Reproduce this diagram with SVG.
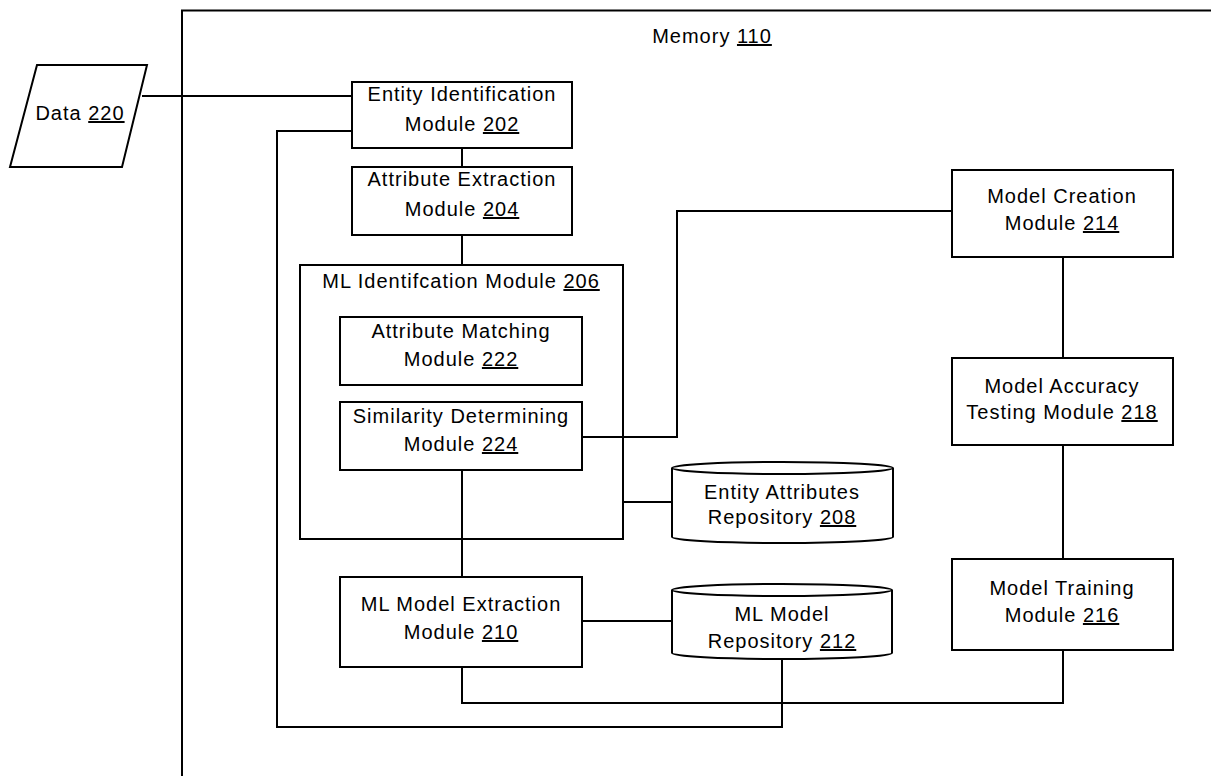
<svg xmlns="http://www.w3.org/2000/svg" width="1211" height="776" viewBox="0 0 1211 776">
<style>
.b{fill:#fff;stroke:#000;stroke-width:2}
.c{fill:none;stroke:#000;stroke-width:2}
.t{font-family:"Liberation Sans",Arial,sans-serif;font-size:20px;letter-spacing:1px;fill:#000;text-anchor:middle}
.u{text-decoration:underline}
</style>
<rect width="1211" height="776" fill="#fff"/>
<g id="memory">
<path class="c" d="M182,776 V10.5 H1211"/>
<text class="t" x="712" y="43">Memory <tspan class="u">110</tspan></text>
</g>
<g id="connectors">
<path class="c" d="M142,96 H352"/>
<path class="c" d="M352,131 H277 V727 H782 V659"/>
<path class="c" d="M462,148 V167"/>
<path class="c" d="M462,235 V265"/>
<path class="c" d="M462,470 V577"/>
<path class="c" d="M582,437 H677 V211 H952"/>
<path class="c" d="M623,502 H672"/>
<path class="c" d="M582,621 H672"/>
<path class="c" d="M462,667 V703 H1063 V650"/>
<path class="c" d="M1063,257 V358"/>
<path class="c" d="M1063,445 V559"/>
</g>
<g id="data220">
<path class="b" d="M37,65 H147 L122,167 H10 Z"/>
<text class="t" x="80" y="120">Data <tspan class="u">220</tspan></text>
</g>
<g id="entity202">
<rect class="b" x="352" y="82" width="220" height="66"/>
<text class="t" x="462" y="101">Entity Identification</text>
<text class="t" x="462" y="131">Module <tspan class="u">202</tspan></text>
</g>
<g id="attr204">
<rect class="b" x="352" y="167" width="220" height="68"/>
<text class="t" x="462" y="186">Attribute Extraction</text>
<text class="t" x="462" y="216">Module <tspan class="u">204</tspan></text>
</g>
<g id="mlident206">
<rect class="c" x="300" y="265" width="323" height="274"/>
<text class="t" x="461" y="288">ML Identifcation Module <tspan class="u">206</tspan></text>
</g>
<g id="match222">
<rect class="b" x="340" y="317" width="242" height="68"/>
<text class="t" x="461" y="338">Attribute Matching</text>
<text class="t" x="461" y="366">Module <tspan class="u">222</tspan></text>
</g>
<g id="sim224">
<rect class="b" x="340" y="402" width="242" height="68"/>
<text class="t" x="461" y="423">Similarity Determining</text>
<text class="t" x="461" y="451">Module <tspan class="u">224</tspan></text>
</g>
<g id="repo208">
<path class="b" d="M672,468 V537 A110.5,6 0 0 0 893,537 V468"/>
<ellipse class="b" cx="782.5" cy="468" rx="110.5" ry="6"/>
<text class="t" x="782" y="499">Entity Attributes</text>
<text class="t" x="782" y="524">Repository <tspan class="u">208</tspan></text>
</g>
<g id="mlext210">
<rect class="b" x="340" y="577" width="242" height="90"/>
<text class="t" x="461" y="611">ML Model Extraction</text>
<text class="t" x="461" y="639">Module <tspan class="u">210</tspan></text>
</g>
<g id="repo212">
<path class="b" d="M672,590 V653 A110,6 0 0 0 892,653 V590"/>
<ellipse class="b" cx="782" cy="590" rx="110" ry="6"/>
<text class="t" x="782" y="621">ML Model</text>
<text class="t" x="782" y="648">Repository <tspan class="u">212</tspan></text>
</g>
<g id="create214">
<rect class="b" x="952" y="170" width="221" height="87"/>
<text class="t" x="1062" y="203">Model Creation</text>
<text class="t" x="1062" y="230">Module <tspan class="u">214</tspan></text>
</g>
<g id="acc218">
<rect class="b" x="952" y="358" width="221" height="87"/>
<text class="t" x="1062" y="393">Model Accuracy</text>
<text class="t" x="1062" y="419">Testing Module <tspan class="u">218</tspan></text>
</g>
<g id="train216">
<rect class="b" x="952" y="559" width="221" height="91"/>
<text class="t" x="1062" y="595">Model Training</text>
<text class="t" x="1062" y="622">Module <tspan class="u">216</tspan></text>
</g>
</svg>
